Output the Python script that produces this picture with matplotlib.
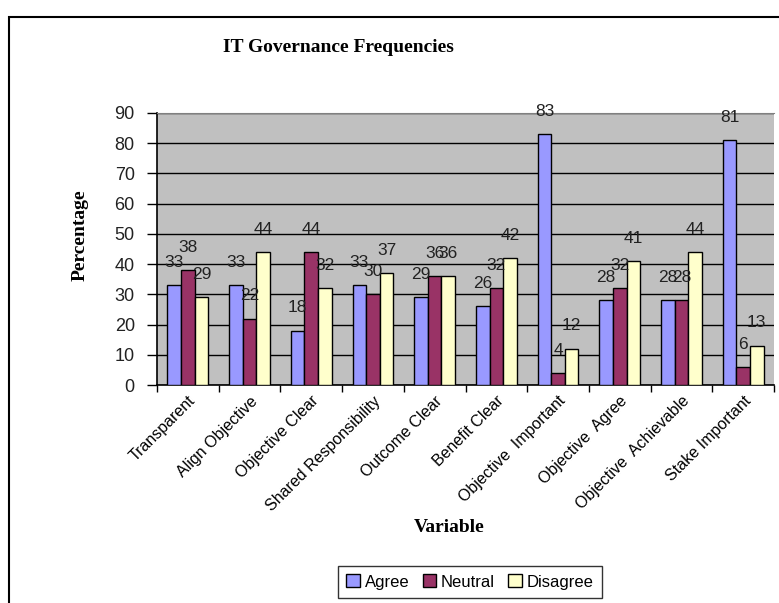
import numpy as np
import matplotlib.pyplot as plt
from matplotlib.patches import Rectangle

# data
categories = ['Transparent', 'Align Objective', 'Objective Clear', 'Shared Responsibility',
              'Outcome Clear', 'Benefit Clear', 'Objective  Important', 'Objective  Agree',
              'Objective  Achievable', 'Stake Important']
agree = [33, 33, 18, 33, 29, 26, 83, 28, 28, 81]
neutral = [38, 22, 44, 30, 36, 32, 4, 32, 28, 6]
disagree = [29, 44, 32, 37, 36, 42, 12, 41, 44, 13]

series = [('Agree', agree, '#9999FF'),
          ('Neutral', neutral, '#993366'),
          ('Disagree', disagree, '#FFFFCC')]

fig = plt.figure(figsize=(7.79, 6.03), dpi=100)
ax = fig.add_axes([157 / 779, 1 - 385 / 603, (774 - 157) / 779, (385 - 113) / 603])
ax.set_facecolor('#C0C0C0')

# outer chart frame (runs off the right and bottom edge)
fig.patches.append(Rectangle((9 / 779, -0.1), 1.2, 1 - 17 / 603 + 0.1,
                             transform=fig.transFigure, fill=False,
                             edgecolor='black', linewidth=1.5))

x = np.arange(len(categories))
w = 0.22
for i, (name, vals, col) in enumerate(series):
    pos = x + (i - 1) * w
    ax.bar(pos, vals, width=w, color=col, edgecolor='black', linewidth=1.0,
           label=name, zorder=3)
    for px, v in zip(pos, vals):
        ax.annotate(str(v), (px, v), xytext=(0, 11), textcoords='offset points',
                    ha='center', va='bottom', fontsize=12.5, family='Liberation Sans',
                    color='#222222', zorder=4, annotation_clip=False)

ax.set_xlim(-0.5, len(categories) - 0.5)
ax.set_ylim(0, 90)
ax.set_yticks(range(0, 91, 10))
ax.yaxis.grid(True, color='black', linewidth=1.0, zorder=1)
ax.set_axisbelow(True)

ax.set_xticks(x)
ax.set_xticklabels(categories, rotation=45, ha='right', va='top',
                   rotation_mode='anchor', fontsize=11.5, family='Liberation Sans')
ax.tick_params(axis='x', length=0, pad=6)
ax.set_xticks(np.arange(-0.5, len(categories), 1.0), minor=True)
ax.tick_params(axis='x', which='minor', length=5, width=1, color='black')
ax.tick_params(axis='y', length=7, width=1, labelsize=13, pad=9)
for lab in ax.get_yticklabels():
    lab.set_family('Liberation Sans')
    lab.set_color('#222222')

ax.spines['right'].set_visible(False)
ax.spines['top'].set_color('#808080')
ax.spines['left'].set_linewidth(1.2)
ax.spines['bottom'].set_linewidth(1.2)

fig.text(338 / 779, 1 - 48 / 603, 'IT Governance Frequencies', ha='center', va='center',
         fontsize=14, fontweight='bold', family='Liberation Serif')
fig.text(80 / 779, 1 - 235 / 603, 'Percentage', ha='center', va='center', rotation=90,
         fontsize=14, fontweight='bold', family='Liberation Serif')
fig.text(449 / 779, 1 - 528 / 603, 'Variable', ha='center', va='center',
         fontsize=14, fontweight='bold', family='Liberation Serif')

leg = ax.legend(loc='center', bbox_to_anchor=(470 / 779, 1 - 582 / 603),
                bbox_transform=fig.transFigure, ncol=3, frameon=True, fancybox=False,
                edgecolor='black', handlelength=0.8, handleheight=0.8,
                handletextpad=0.3, columnspacing=0.8, borderpad=0.5,
                prop={'family': 'Liberation Sans', 'size': 12})
leg.get_frame().set_linewidth(1.0)

fig.savefig('out.png', dpi=100)
